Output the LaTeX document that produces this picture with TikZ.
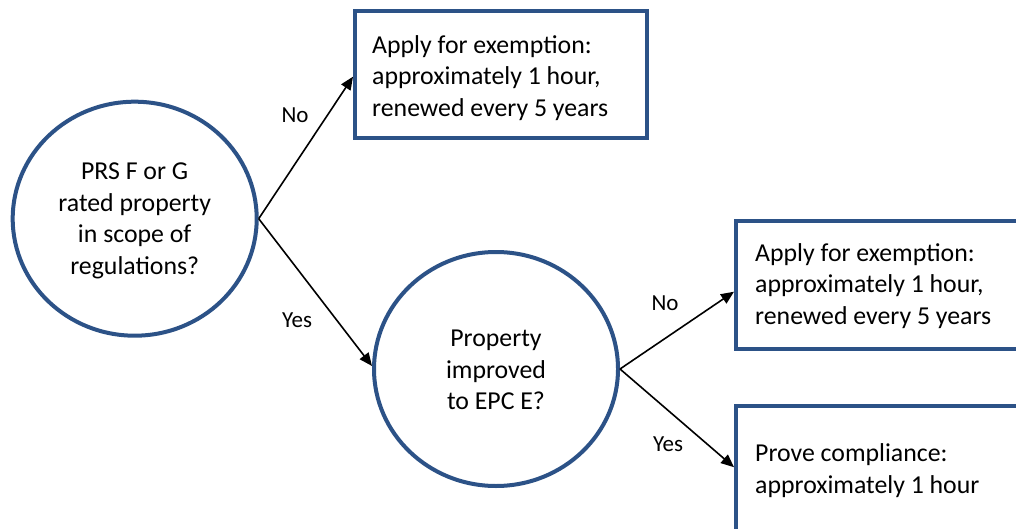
\documentclass[tikz,border=0pt]{standalone}
\usepackage{fontspec}
\setmainfont{Carlito}
\usetikzlibrary{arrows.meta,shapes.geometric}
\definecolor{frameblue}{RGB}{44,82,135}
\begin{document}
\begin{tikzpicture}[x=1pt,y=-1pt,
  decision/.style={draw=frameblue,line width=4pt,ellipse,inner sep=0pt,minimum width=244pt,minimum height=234pt},
  outcome/.style={draw=frameblue,line width=4pt,rectangle,inner sep=0pt,anchor=north west},
  bodytext/.style={inner sep=0pt,font=\fontsize{25.8}{31.6}\selectfont},
  edgelabel/.style={inner sep=0pt,font=\fontsize{23}{26}\selectfont},
  link/.style={line width=1.6pt,-{Triangle[length=13pt,width=11pt]}}]
\clip (0,0) rectangle (1016,529);
\fill[white] (0,0) rectangle (1016,529);
% decisions
\node[decision] (c1) at (134.7,218.7) {};
\node[decision] (c2) at (496,369) {};
\node[bodytext,align=center] (t1) at (134.7,221) {PRS F or G\\rated property\\in scope of\\regulations?};
\node[bodytext,align=center] (t2) at (496,370) {Property\\improved\\to EPC E?};
% outcomes
\node[outcome,minimum width=292pt,minimum height=127pt] (b1) at (353,9.2) {};
\node[outcome,minimum width=320pt,minimum height=128pt] (b2) at (734,218.7) {};
\node[outcome,minimum width=320pt,minimum height=160pt] (b3) at (734,403.7) {};
\node[bodytext,align=left,anchor=west] (t3) at (372,78) {Apply for exemption:\\approximately 1 hour,\\renewed every 5 years};
\node[bodytext,align=left,anchor=west] (t4) at (755,286) {Apply for exemption:\\approximately 1 hour,\\renewed every 5 years};
\node[bodytext,align=left,anchor=west] (t5) at (755,470.5) {Prove compliance:\\approximately 1 hour};
% connectors
\draw[link] (c1.east) -- ([yshift=-2pt]b1.west);
\draw[link] (c1.east) -- ([yshift=3pt]c2.west);
\draw[link] (c2.east) -- ([yshift=-7pt]b2.west);
\draw[link] (c2.east) -- ([yshift=-63.5pt]b3.north west);
% labels
\node[edgelabel] (l1) at (295,115) {No};
\node[edgelabel] (l2) at (297,320) {Yes};
\node[edgelabel] (l3) at (665,303) {No};
\node[edgelabel] (l4) at (668,444) {Yes};
\end{tikzpicture}
\end{document}
